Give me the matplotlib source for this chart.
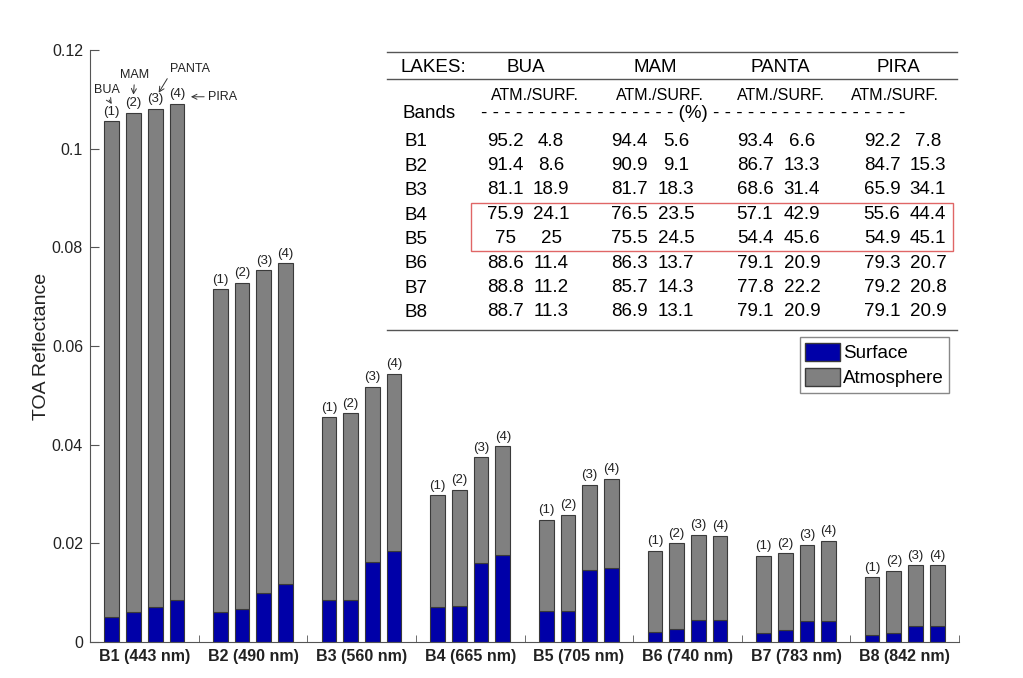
import matplotlib
matplotlib.use("Agg")
import numpy as np
from matplotlib import pyplot as plt
from matplotlib.patches import Patch, Rectangle
from matplotlib.transforms import offset_copy

plt.rcParams["font.family"] = ["Liberation Sans", "DejaVu Sans"]

bands = ["B1 (443 nm)", "B2 (490 nm)", "B3 (560 nm)", "B4 (665 nm)",
         "B5 (705 nm)", "B6 (740 nm)", "B7 (783 nm)", "B8 (842 nm)"]
lakes = ["BUA", "MAM", "PANTA", "PIRA"]

# total TOA reflectance per lake (B1..B8)
bua_total = [0.1056, 0.0715, 0.0456, 0.0298, 0.0248, 0.0185, 0.0175, 0.0131]
mam_total = [0.1073, 0.0728, 0.0464, 0.0309, 0.0258, 0.0200, 0.0180, 0.0144]
panta_total = [0.1081, 0.0754, 0.0517, 0.0375, 0.0319, 0.0217, 0.0197, 0.0156]
pira_total = [0.1091, 0.0768, 0.0544, 0.0397, 0.0331, 0.0215, 0.0205, 0.0156]

# surface part per lake (B1..B8)
bua_surf = [0.0050, 0.0061, 0.0086, 0.0071, 0.0062, 0.0021, 0.0019, 0.0015]
mam_surf = [0.0060, 0.0066, 0.0085, 0.0072, 0.0063, 0.0027, 0.0025, 0.0019]
panta_surf = [0.0071, 0.0100, 0.0162, 0.0161, 0.0145, 0.0045, 0.0043, 0.0032]
pira_surf = [0.0085, 0.0118, 0.0185, 0.0176, 0.0149, 0.0045, 0.0043, 0.0032]

# table values: ATM. / SURF. (%)
table_bands = ["B1", "B2", "B3", "B4", "B5", "B6", "B7", "B8"]
bua_pct = [(95.2, 4.8), (91.4, 8.6), (81.1, 18.9), (75.9, 24.1), (75, 25),
           (88.6, 11.4), (88.8, 11.2), (88.7, 11.3)]
mam_pct = [(94.4, 5.6), (90.9, 9.1), (81.7, 18.3), (76.5, 23.5), (75.5, 24.5),
           (86.3, 13.7), (85.7, 14.3), (86.9, 13.1)]
panta_pct = [(93.4, 6.6), (86.7, 13.3), (68.6, 31.4), (57.1, 42.9), (54.4, 45.6),
             (79.1, 20.9), (77.8, 22.2), (79.1, 20.9)]
pira_pct = [(92.2, 7.8), (84.7, 15.3), (65.9, 34.1), (55.6, 44.4), (54.9, 45.1),
            (79.3, 20.7), (79.2, 20.8), (79.1, 20.9)]

totals = [bua_total, mam_total, panta_total, pira_total]
surfs = [bua_surf, mam_surf, panta_surf, pira_surf]
pcts = [bua_pct, mam_pct, panta_pct, pira_pct]

blue = "#0000a8"
grey = "#808080"
edge = "#3a3a3a"

fig = plt.figure(figsize=(10.23, 6.78), dpi=100)
ax = fig.add_axes([90 / 1023, 1 - 642 / 678, (959 - 90) / 1023, (642 - 50) / 678])

x = np.arange(1, len(bands) + 1)
offsets = [-0.3, -0.1, 0.1, 0.3]
w = 0.135
for k in range(4):
    tot = np.array(totals[k])
    srf = np.array(surfs[k])
    xs = x + offsets[k]
    ax.bar(xs, srf, w, color=blue, edgecolor=edge, linewidth=0.8, zorder=2)
    ax.bar(xs, tot - srf, w, bottom=srf, color=grey, edgecolor=edge, linewidth=0.8, zorder=2)
    for xi, ti in zip(xs, tot):
        ax.annotate("(%d)" % (k + 1), xy=(xi, ti), xytext=(0, 2.5), textcoords="offset points",
                    ha="center", va="bottom", fontsize=9.5, color="#222222")

# lake name pointers on the first band: name, bar, head dx, head dy, text offset, relpos
arrow = dict(arrowstyle="->", lw=0.7, color="#333333", shrinkA=1, shrinkB=0)
ptr = [("BUA", 0, 0, 17, (-5, 14), (0.5, 0)),
       ("MAM", 1, 0, 18, (1, 20), (0.5, 0)),
       ("PANTA", 2, 3.5, 16, (31, 24), (0, 0)),
       ("PIRA", 3, 14, 7, (32, 0), (0, 0.5))]
for name, k, dx, dy, txt, rel in ptr:
    tr = offset_copy(ax.transData, fig=fig, x=dx, y=dy, units="dots")
    a = dict(arrow)
    a["relpos"] = rel
    ax.annotate(name, xy=(1 + offsets[k], totals[k][0]), xycoords=tr,
                xytext=txt, textcoords="offset pixels", ha="center", va="center",
                fontsize=9, color="#222222", arrowprops=a)

ax.set_xlim(0.5, 8.5)
ax.set_ylim(0, 0.12)
ax.set_yticks([0, 0.02, 0.04, 0.06, 0.08, 0.1, 0.12])
ax.set_yticklabels(["0", "0.02", "0.04", "0.06", "0.08", "0.1", "0.12"])
ax.set_xticks(x)
ax.set_xticklabels(bands, fontweight="bold", fontsize=11.5)
ax.set_xticks(np.arange(1.5, 9.0, 1.0), minor=True)
ax.tick_params(axis="x", which="major", length=0, pad=5, colors="#222222")
ax.tick_params(axis="x", which="minor", direction="in", length=5, color="#555555")
ax.tick_params(axis="y", direction="in", length=6.5, labelsize=11.5, pad=5,
               color="#555555", labelcolor="#222222")
ax.set_ylabel("TOA Reflectance", fontsize=14, color="#222222", labelpad=1.5)
for s in ["top", "right"]:
    ax.spines[s].set_visible(False)
for s in ["left", "bottom"]:
    ax.spines[s].set_color("#555555")

ax.legend(handles=[Patch(facecolor=blue, edgecolor=edge, label="Surface"),
                   Patch(facecolor=grey, edgecolor=edge, label="Atmosphere")],
          loc="upper right", bbox_to_anchor=(949 / 1023, 1 - 337 / 678),
          bbox_transform=fig.transFigure, fontsize=13.5, frameon=True, fancybox=False,
          edgecolor="#888888", framealpha=1, borderpad=0.3, labelspacing=0.3,
          handlelength=1.85, handleheight=1.1, handletextpad=0.15, borderaxespad=0)

# table drawn in pixel coordinates on an overlay
tb = fig.add_axes([0, 0, 1, 1], facecolor="none")
tb.set_xlim(0, 1023)
tb.set_ylim(678, 0)
tb.axis("off")

for yl in [52, 79, 330]:
    tb.plot([387, 957], [yl, yl], color="#555555", lw=1)

tfs = 13.5
tb.text(400, 67, "LAKES:", fontsize=tfs, va="center", ha="left")
head_x = [526, 655, 780, 898]
sub_x = [535, 660, 781, 895]
atm_x = [505, 629, 755, 882]
srf_x = [551, 676, 802, 928]
for k, name in enumerate(lakes):
    tb.text(head_x[k], 67, name, fontsize=tfs, ha="center", va="center")
    tb.text(sub_x[k], 95, "ATM./SURF.", fontsize=11.5, ha="center", va="center")
tb.text(403, 113, "Bands", fontsize=tfs, ha="left", va="center")
tb.text(693, 113, "- " * 17 + "(%)" + " -" * 17, fontsize=tfs, ha="center", va="center")

row_y = 141 + 24.4 * np.arange(len(table_bands))
for r, bname in enumerate(table_bands):
    tb.text(404, row_y[r] + 1, bname, fontsize=tfs, ha="left", va="center")
    for k in range(4):
        a_v, s_v = pcts[k][r]
        tb.text(atm_x[k], row_y[r], "%g" % a_v, fontsize=tfs, ha="center", va="center")
        tb.text(srf_x[k], row_y[r], "%g" % s_v, fontsize=tfs, ha="center", va="center")

tb.add_patch(Rectangle((471, 203), 953 - 471, 251 - 203, fill=False,
                       edgecolor="#e06666", lw=1))

plt.savefig("out.png", dpi=100)
